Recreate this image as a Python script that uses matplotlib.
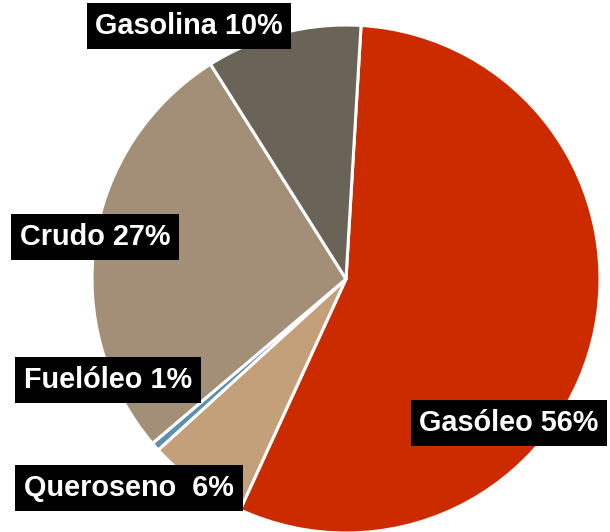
#!/usr/bin/env python3

import matplotlib
matplotlib.use("Agg")
import matplotlib.pyplot as plt

plt.rcParams["font.family"] = ["Liberation Sans", "DejaVu Sans"]

# order: clockwise starting at the top
categories = ["Gasóleo", "Queroseno", "Fuelóleo", "Crudo", "Gasolina"]
values = [55.9, 6.4, 0.55, 27.25, 9.9]
labels = ["Gasóleo 56%", "Queroseno  6%", "Fuelóleo 1%", "Crudo 27%", "Gasolina 10%"]
colors = ["#cc2b00", "#c3a07a", "#5d8fae", "#a38f77", "#6a6357"]

# label box centres in image pixels (x, y from top)
label_pos = [(509, 423), (129, 488), (108, 380), (95, 237), (189, 26)]

W, H = 610, 532
cx, cy, r = 346, 279, 254


def main():
    fig = plt.figure(figsize=(W / 100, H / 100), dpi=100)
    ax = fig.add_axes([(cx - r) / W, (H - cy - r) / H, 2 * r / W, 2 * r / H])

    ax.pie(values, colors=colors, startangle=86.6, counterclock=False,
           radius=1.0,
           wedgeprops={"edgecolor": "white", "linewidth": 2.2})
    ax.set_xlim(-1, 1)
    ax.set_ylim(-1, 1)
    ax.set_aspect("equal")
    ax.axis("off")

    for lab, (x, y) in zip(labels, label_pos):
        fig.text(x / W, (H - y) / H, lab, ha="center", va="center",
                 fontsize=20.8, fontweight="bold", color="white",
                 bbox={"boxstyle": "square,pad=0.3", "facecolor": "black",
                       "edgecolor": "none"})

    fig.savefig("out.png", dpi=100)


if __name__ == "__main__":
    main()
